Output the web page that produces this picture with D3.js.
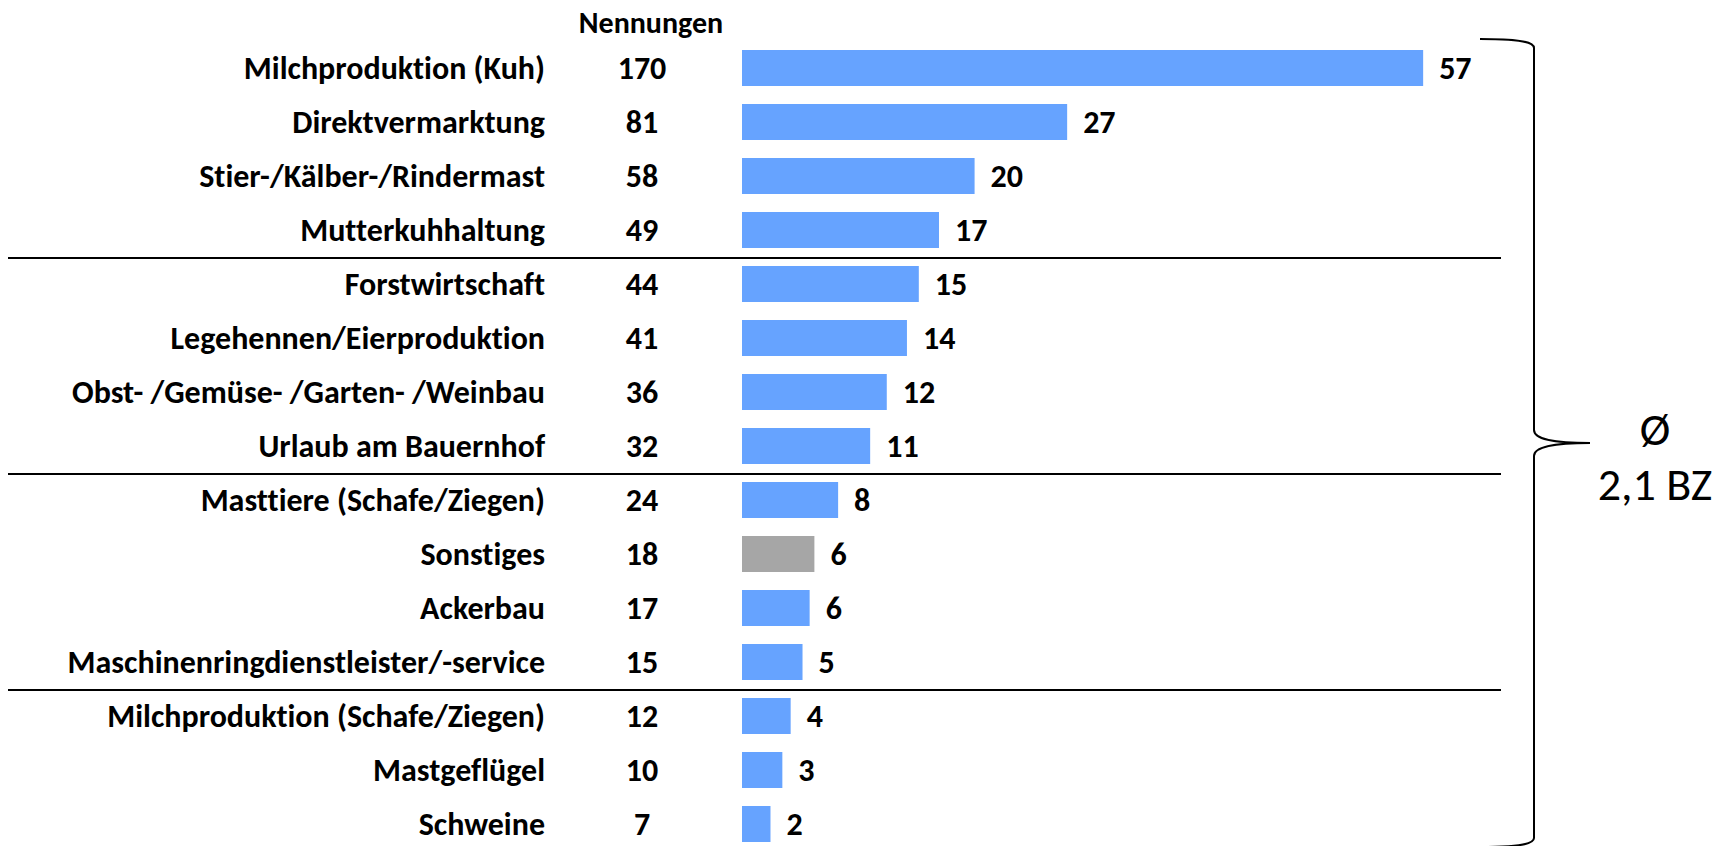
<!DOCTYPE html>
<html>
<head>
<meta charset="utf-8">
<script src="https://cdn.jsdelivr.net/npm/d3@7"></script>
<style>
    body { margin: 0; background: #fff; }
    text { font-family: Carlito, Lato, "Open Sans", sans-serif; font-variant-ligatures: none; }
</style>
</head>
<body>
<div id="chart"></div>
<script>

// categories, top to bottom
const categories = [
    'Milchproduktion (Kuh)',
    'Direktvermarktung',
    'Stier-/Kälber-/Rindermast',
    'Mutterkuhhaltung',
    'Forstwirtschaft',
    'Legehennen/Eierproduktion',
    'Obst- /Gemüse- /Garten- /Weinbau',
    'Urlaub am Bauernhof',
    'Masttiere (Schafe/Ziegen)',
    'Sonstiges',
    'Ackerbau',
    'Maschinenringdienstleister/-service',
    'Milchproduktion (Schafe/Ziegen)',
    'Mastgeflügel',
    'Schweine'
];

// number of mentions (Nennungen)
const mentions = [170, 81, 58, 49, 44, 41, 36, 32, 24, 18, 17, 15, 12, 10, 7];

// bar length in percent
const percents = [57.4, 27.4, 19.6, 16.6, 14.9, 13.9, 12.2, 10.8, 8.1, 6.1, 5.7, 5.1, 4.1, 3.4, 2.4];

// printed percent labels
const percentLabels = [57, 27, 20, 17, 15, 14, 12, 11, 8, 6, 6, 5, 4, 3, 2];

// rows above which a separator line is drawn
const groupBreaks = ['Forstwirtschaft', 'Masttiere (Schafe/Ziegen)', 'Milchproduktion (Schafe/Ziegen)'];

const greyCategories = ['Sonstiges'];

const columnTitle = 'Nennungen';
const braceLabel = ['Ø', '2,1 BZ'];


const width = 1719;
const height = 846;

const labelRight = 545;
const mentionsX = 642;
const titleX = 651;
const barLeft = 742;
const lineLeft = 8;
const lineRight = 1501;
const braceX = 1534;
const braceTip = 1590;
const braceTextX = 1655;

const rows = categories.map((c, i) => ({
    category: c,
    mentions: mentions[i],
    percent: percents[i],
    label: percentLabels[i]
}));

const svg = d3.select('#chart')
    .append('svg')
    .attr('width', width)
    .attr('height', height);

const yScale = d3.scaleBand()
    .domain(categories)
    .range([41, 41 + categories.length * 54])
    .paddingInner(1 / 3)
    .paddingOuter(1 / 6);

const xScale = d3.scaleLinear()
    .domain([0, 60])
    .range([barLeft, barLeft + 712]);

const fontSize = 32;

// column title
svg.append('text')
    .attr('x', titleX)
    .attr('y', 33)
    .attr('text-anchor', 'middle')
    .attr('font-size', 30)
    .attr('font-weight', 700)
    .text(columnTitle);

// category labels
svg.append('g')
    .selectAll('text')
    .data(rows)
    .join('text')
    .attr('x', labelRight)
    .attr('y', d => yScale(d.category) + yScale.bandwidth() / 2)
    .attr('dy', '0.35em')
    .attr('text-anchor', 'end')
    .attr('font-size', fontSize)
    .attr('font-weight', 700)
    .text(d => d.category);

// mentions column
svg.append('g')
    .selectAll('text')
    .data(rows)
    .join('text')
    .attr('x', mentionsX)
    .attr('y', d => yScale(d.category) + yScale.bandwidth() / 2)
    .attr('dy', '0.35em')
    .attr('text-anchor', 'middle')
    .attr('font-size', fontSize)
    .attr('font-weight', 700)
    .text(d => d.mentions);

// bars
svg.append('g')
    .selectAll('rect')
    .data(rows)
    .join('rect')
    .attr('x', xScale(0))
    .attr('y', d => yScale(d.category))
    .attr('width', d => xScale(d.percent) - xScale(0))
    .attr('height', yScale.bandwidth())
    .attr('fill', d => greyCategories.includes(d.category) ? '#a6a6a6' : '#66a3ff');

// bar value labels
svg.append('g')
    .selectAll('text')
    .data(rows)
    .join('text')
    .attr('x', d => xScale(d.percent) + 16)
    .attr('y', d => yScale(d.category) + yScale.bandwidth() / 2)
    .attr('dy', '0.35em')
    .attr('font-size', fontSize)
    .attr('font-weight', 700)
    .text(d => d.label);

// group separators
const gap = yScale.step() - yScale.bandwidth();
svg.append('g')
    .selectAll('line')
    .data(groupBreaks)
    .join('line')
    .attr('x1', lineLeft)
    .attr('x2', lineRight)
    .attr('y1', d => yScale(d) - gap / 2 + 1)
    .attr('y2', d => yScale(d) - gap / 2 + 1)
    .attr('stroke', '#000')
    .attr('stroke-width', 2);

// curly brace spanning all rows
const braceTop = yScale.range()[0] - 2;
const braceBottom = yScale.range()[1] - 4;
const braceMid = (braceTop + braceBottom) / 2;
const hook = 54;
const bracePath = d3.path();
bracePath.moveTo(braceX - hook, braceTop);
bracePath.bezierCurveTo(braceX - 20, braceTop, braceX, braceTop + 2, braceX, braceTop + 9);
bracePath.lineTo(braceX, braceMid - 13);
bracePath.bezierCurveTo(braceX, braceMid - 4, braceX + 18, braceMid, braceTip, braceMid);
bracePath.bezierCurveTo(braceX + 18, braceMid, braceX, braceMid + 4, braceX, braceMid + 13);
bracePath.lineTo(braceX, braceBottom - 9);
bracePath.bezierCurveTo(braceX, braceBottom - 2, braceX - 20, braceBottom, braceX - hook, braceBottom);

svg.append('path')
    .attr('d', bracePath.toString())
    .attr('fill', 'none')
    .attr('stroke', '#000')
    .attr('stroke-width', 2);

svg.append('text')
    .attr('x', braceTextX)
    .attr('y', braceMid + 2)
    .attr('text-anchor', 'middle')
    .attr('font-size', 46)
    .text(braceLabel[0]);

svg.append('text')
    .attr('x', braceTextX)
    .attr('y', braceMid + 57)
    .attr('text-anchor', 'middle')
    .attr('font-size', 46)
    .text(braceLabel[1]);

</script>
</body>
</html>
